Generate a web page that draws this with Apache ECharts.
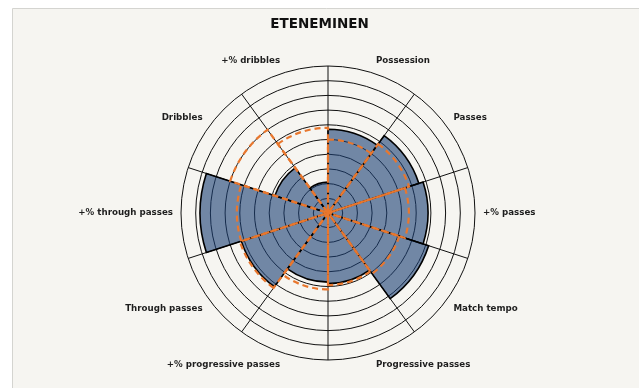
<!DOCTYPE html>
<html>
<head>
<meta charset="utf-8">
<script src="https://cdn.jsdelivr.net/npm/echarts@6/dist/echarts.min.js"></script>
<style>
html,body{margin:0;padding:0;background:#ffffff;}
#chart{width:639px;height:388px;}
</style>
</head>
<body>
<div id="chart"></div>
<script>
var titleText = 'ETENEMINEN';
var categories = ['Possession', 'Passes', '+% passes', 'Match tempo', 'Progressive passes',
  '+% progressive passes', 'Through passes', '+% through passes', 'Dribbles', '+% dribbles'];
var playerValues = [57, 65, 68, 72, 48, 47, 62, 87, 38, 21];
var referenceValues = [50, 58, 55, 51, 49, 52, 63, 62, 70, 58];
var radiusTicks = [0, 10, 20, 30, 40, 50, 60, 70, 80, 90, 100];

var chart = echarts.init(document.getElementById('chart'), null, {renderer: 'canvas'});
var option = {
  backgroundColor: '#ffffff',
  animation: false,
  graphic: [{
    type: 'rect', z: -10, silent: true,
    shape: {x: 12.5, y: 8.5, width: 640, height: 400},
    style: {fill: '#f6f5f1', stroke: '#d4d4d0', lineWidth: 1}
  }],
  title: {
    text: titleText, left: 'center', top: 17, padding: 0,
    textStyle: {fontFamily: 'DejaVu Sans', fontWeight: 'bold', fontSize: 13.5, color: '#111'}
  },
  polar: {center: [328, 213], radius: 147},
  angleAxis: {
    type: 'category', data: categories, startAngle: 90, clockwise: true, boundaryGap: true,
    axisLine: {show: false}, axisTick: {show: false},
    axisLabel: {margin: 8, fontFamily: 'DejaVu Sans', fontWeight: 'bold', fontSize: 8.7, color: '#1e1e1e'},
    splitLine: {show: true, lineStyle: {color: '#111', width: 1}}
  },
  radiusAxis: {
    type: 'value', min: radiusTicks[0], max: radiusTicks[radiusTicks.length - 1], interval: 10,
    axisLine: {show: false}, axisTick: {show: false}, axisLabel: {show: false},
    splitLine: {show: true, lineStyle: {color: '#111', width: 1}}
  },
  series: [{
    type: 'bar', coordinateSystem: 'polar', data: playerValues,
    barCategoryGap: '0%', barGap: '-100%', z: 2,
    itemStyle: {color: 'rgba(25,62,115,0.6)', borderColor: '#000', borderWidth: 1.6}
  }, {
    type: 'bar', coordinateSystem: 'polar', data: referenceValues,
    barCategoryGap: '0%', barGap: '-100%', z: 3,
    itemStyle: {color: 'rgba(0,0,0,0)', borderColor: '#e8772e', borderWidth: 2.2, borderType: [6, 4]}
  }]
};
chart.setOption(option);
</script>
</body>
</html>
